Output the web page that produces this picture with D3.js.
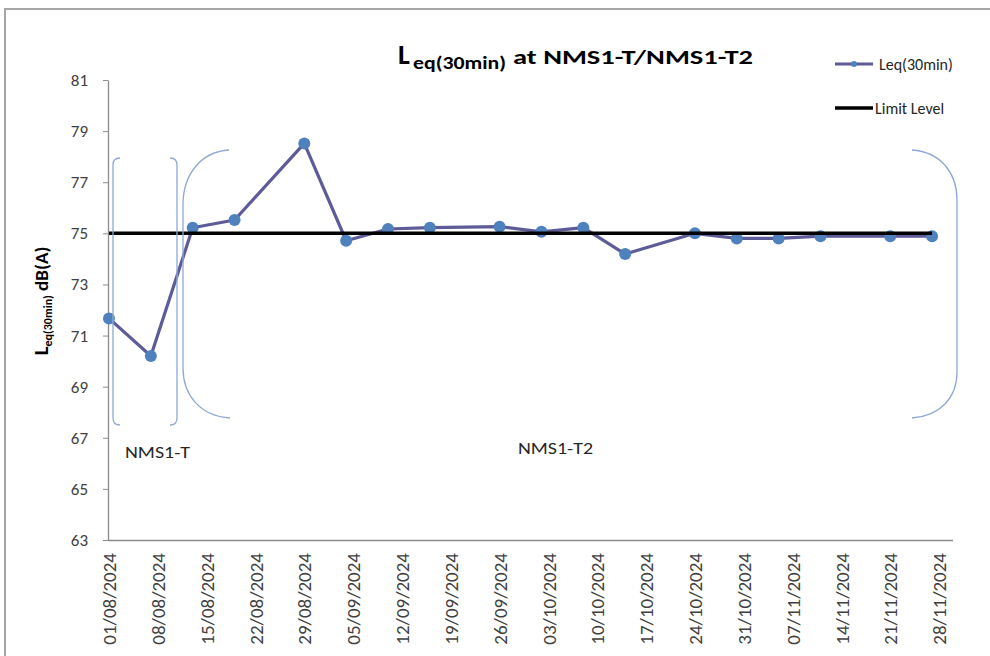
<!DOCTYPE html>
<html><head><meta charset="utf-8">
<script src="https://cdn.jsdelivr.net/npm/d3@7"></script>
<style>body{margin:0;background:#fff} svg{display:block}</style>
</head><body>
<svg id="c" width="990" height="656"></svg>
<script>
// ---- data ----
const tickLabels = ["01/08/2024","08/08/2024","15/08/2024","22/08/2024","29/08/2024","05/09/2024",
  "12/09/2024","19/09/2024","26/09/2024","03/10/2024","10/10/2024","17/10/2024","24/10/2024",
  "31/10/2024","07/11/2024","14/11/2024","21/11/2024","28/11/2024"];
const dates = ["01/08/2024","07/08/2024","13/08/2024","19/08/2024","29/08/2024","04/09/2024",
  "10/09/2024","16/09/2024","26/09/2024","02/10/2024","08/10/2024","14/10/2024","24/10/2024",
  "30/10/2024","05/11/2024","11/11/2024","21/11/2024","27/11/2024"];
const leq = [71.67, 70.2, 75.22, 75.52, 78.52, 74.71, 75.17, 75.22, 75.26, 75.06, 75.22, 74.19,
  75.0, 74.8, 74.8, 74.89, 74.89, 74.89];
const limitLevel = [75,75,75,75,75,75,75,75,75,75,75,75,75,75,75,75,75,75];
const yTicks = [63,65,67,69,71,73,75,77,79,81];
const seriesNames = ["Leq(30min)","Limit Level"];
const groupLabels = ["NMS1-T","NMS1-T2"];
const axisStart = "01/08/2024", axisEnd = "30/11/2024";

// ---- setup ----
const FONT = "Carlito, Lato, 'Open Sans', sans-serif";
const parse = d3.timeParse("%d/%m/%Y");
const svg = d3.select("#c").style("font-family", FONT);

const x = d3.scaleTime().domain([parse(axisStart), parse(axisEnd)]).range([109, 953]);
const y = d3.scaleLinear().domain([63, 81]).range([540, 80]);

// outer border
svg.append("rect").attr("x",5).attr("y",9).attr("width",1000).attr("height",700)
  .attr("fill","none").attr("stroke","#a6a6a6").attr("stroke-width",2);

// y axis
const gy = svg.append("g").attr("transform","translate(108,0)")
  .call(d3.axisLeft(y).tickValues(yTicks).tickSize(5).tickSizeOuter(0).tickPadding(15));
gy.select(".domain").attr("stroke","#8c8c8c").attr("stroke-width",1.3);
gy.selectAll(".tick line").attr("stroke","#8c8c8c");
gy.selectAll(".tick text").attr("fill","#404040").style("font-size","17px").style("font-family",FONT);

// x axis
const gx = svg.append("g").attr("transform","translate(0,540)")
  .call(d3.axisBottom(x).tickValues(tickLabels.map(parse)).tickSize(0).tickSizeOuter(0)
    .tickFormat((d,i)=>tickLabels[i]));
gx.select(".domain").attr("stroke","#8c8c8c").attr("stroke-width",1.3)
  .attr("d", "M108,0.5H953");
gx.selectAll(".tick text").attr("fill","#404040").style("font-size","19px").style("font-family",FONT)
  .attr("text-anchor","end").attr("transform","translate(0,13) rotate(-90)")
  .attr("x",0).attr("y",0).attr("dy","0.35em");

// series data
const pts = dates.map((d,i)=>({date:parse(d), v:leq[i], lim:limitLevel[i]}));
const line = d3.line().x(d=>x(d.date)).y(d=>y(d.v));
svg.append("path").datum(pts).attr("d",line).attr("fill","none")
  .attr("stroke","#5E5B99").attr("stroke-width",3.2).attr("stroke-linejoin","round");
svg.selectAll("circle.pt").data(pts).join("circle").attr("class","pt")
  .attr("cx",d=>x(d.date)).attr("cy",d=>y(d.v)).attr("r",6).attr("fill","#4F81BD");
const limLine = d3.line().x(d=>x(d.date)).y(d=>y(d.lim));
svg.append("path").datum(pts).attr("d",limLine).attr("fill","none")
  .attr("stroke","#000").attr("stroke-width",3.5);

// brackets (annotations)
const bc = "#8FA8D6";
const br = [
  "M120,158 Q113,158 113,165 L113,418 Q113,425 120,425",
  "M170,158 Q177,158 177,165 L177,418 Q177,425 170,425",
  "M229,150 C200,152 183,175 183,205 L183,368 C183,395 200,416 230,418",
  "M912,150 C940,152 957,172 957,200 L957,372 C957,398 940,416 912,418"
];
svg.selectAll("path.br").data(br).join("path").attr("class","br").attr("d",d=>d)
  .attr("fill","none").attr("stroke",bc).attr("stroke-width",1.3);

// group labels
svg.append("text").attr("x",125).attr("y",458).text(groupLabels[0])
  .style("font-size","17px").attr("fill","#262626")
  .attr("textLength",65).attr("lengthAdjust","spacingAndGlyphs");
svg.append("text").attr("x",518).attr("y",454).text(groupLabels[1])
  .style("font-size","17px").attr("fill","#262626")
  .attr("textLength",75).attr("lengthAdjust","spacingAndGlyphs");

// title
const tg = svg.append("g").style("font-weight","bold").attr("fill","#000");
tg.append("text").attr("x",398).attr("y",64).text("L").style("font-size","28px");
tg.append("text").attr("x",413).attr("y",69).text("eq(30min)").style("font-size","17px")
  .attr("textLength",93).attr("lengthAdjust","spacingAndGlyphs");
tg.append("text").attr("x",513).attr("y",64).text("at NMS1-T/NMS1-T2").style("font-size","21px")
  .attr("textLength",240).attr("lengthAdjust","spacingAndGlyphs");

// y axis label
const yl = svg.append("text").attr("transform","translate(48,301) rotate(-90)")
  .attr("text-anchor","middle").style("font-weight","bold").attr("fill","#000");
yl.append("tspan").text("L").style("font-size","21px");
yl.append("tspan").text("eq(30min)").style("font-size","12px").attr("dy",4);
yl.append("tspan").text(" dB(A)").style("font-size","19px").attr("dy",-4);

// legend
const lg = svg.append("g");
lg.append("line").attr("x1",835).attr("x2",873).attr("y1",64).attr("y2",64)
  .attr("stroke","#5E5B99").attr("stroke-width",3);
lg.append("circle").attr("cx",854).attr("cy",64).attr("r",3).attr("fill","#4F81BD");
lg.append("text").attr("x",879).attr("y",69.5).text(seriesNames[0]).style("font-size","16px").attr("fill","#262626");
lg.append("line").attr("x1",835).attr("x2",873).attr("y1",108).attr("y2",108)
  .attr("stroke","#000").attr("stroke-width",3.5);
lg.append("text").attr("x",875).attr("y",113.5).text(seriesNames[1]).style("font-size","16px").attr("fill","#262626");
</script>
</body></html>
